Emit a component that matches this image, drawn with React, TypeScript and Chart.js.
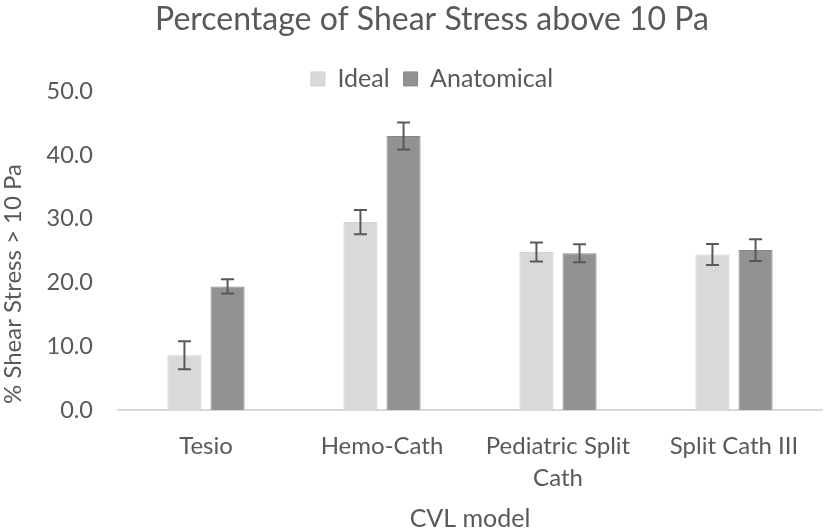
import React, { useEffect, useRef } from "react";
import { Chart, registerables } from "chart.js";

Chart.register(...registerables);

const categories: (string | string[])[] = ["Tesio", "Hemo-Cath", ["Pediatric Split", "Cath"], "Split Cath III"];
const idealValues = [8.6, 29.5, 24.8, 24.4];
const idealErrors = [2.2, 1.9, 1.5, 1.65];
const anatomicalValues = [19.4, 43.0, 24.6, 25.1];
const anatomicalErrors = [1.1, 2.1, 1.4, 1.7];
const yTicks = [0, 10, 20, 30, 40, 50];
const yTitle = "% Shear Stress > 10 Pa";

const FONT = "Lato, 'Open Sans', sans-serif";
const TEXT = "#595959";

const errorBarPlugin = {
  id: "errorBars",
  afterDatasetsDraw(chart: any) {
    const { ctx } = chart;
    const yScale = chart.scales.y;
    ctx.save();
    ctx.strokeStyle = "#595959";
    ctx.lineWidth = 2;
    chart.data.datasets.forEach((ds: any, di: number) => {
      const meta = chart.getDatasetMeta(di);
      const errs: number[] = ds.errors || [];
      meta.data.forEach((bar: any, i: number) => {
        const v = ds.data[i];
        const e = errs[i];
        const x = bar.x;
        const yTop = yScale.getPixelForValue(v + e);
        const yBot = yScale.getPixelForValue(v - e);
        const half = 6.5;
        ctx.beginPath();
        ctx.moveTo(x, yTop);
        ctx.lineTo(x, yBot);
        ctx.moveTo(x - half, yTop);
        ctx.lineTo(x + half, yTop);
        ctx.moveTo(x - half, yBot);
        ctx.lineTo(x + half, yBot);
        ctx.stroke();
      });
    });
    ctx.restore();
  },
};

const yTitlePlugin = {
  id: "yTitleCustom",
  afterDraw(chart: any) {
    const { ctx, chartArea } = chart;
    ctx.save();
    ctx.fillStyle = TEXT;
    ctx.font = `24px ${FONT}`;
    ctx.textAlign = "center";
    ctx.textBaseline = "middle";
    ctx.translate(13, chartArea.bottom - 126);
    ctx.rotate(-Math.PI / 2);
    ctx.fillText(yTitle, 0, 0);
    ctx.restore();
  },
};

export default function App() {
  const ref = useRef<HTMLCanvasElement>(null);
  useEffect(() => {
    document.body.style.margin = "0";
    const chart = new Chart(ref.current as HTMLCanvasElement, {
      type: "bar",
      data: {
        labels: categories,
        datasets: [
          {
            label: "Ideal",
            data: idealValues,
            errors: idealErrors,
            backgroundColor: "#d9d9d9",
            borderColor: "#d0d0d0",
            borderWidth: 1,
            categoryPercentage: 0.49,
            barPercentage: 0.79,
          } as any,
          {
            label: "Anatomical",
            data: anatomicalValues,
            errors: anatomicalErrors,
            backgroundColor: "#929292",
            borderColor: "#888888",
            borderWidth: 1,
            categoryPercentage: 0.49,
            barPercentage: 0.79,
          } as any,
        ],
      },
      options: {
        responsive: false,
        animation: false,
        devicePixelRatio: 1,
        layout: { padding: { left: 42, right: 2, top: 0, bottom: 0 } },
        plugins: {
          title: {
            display: true,
            text: "Percentage of Shear Stress above 10 Pa",
            color: TEXT,
            font: { family: FONT, size: 32, weight: "normal" as any },
            padding: { top: 0, bottom: 14 },
          },
          legend: {
            display: true,
            position: "top",
            maxHeight: 39,
            labels: {
              color: TEXT,
              font: { family: FONT, size: 25 },
              boxWidth: 14,
              boxHeight: 14,
              padding: 14,
            },
          },
          tooltip: { enabled: false },
        },
        scales: {
          x: {
            grid: { display: false, drawTicks: false },
            border: { display: true, color: "#d9d9d9", width: 2 },
            ticks: {
              color: TEXT,
              font: { family: FONT, size: 24, lineHeight: 1.3 },
              padding: 21,
              maxRotation: 0,
              autoSkip: false,
            },
            title: {
              display: true,
              text: "CVL model",
              color: TEXT,
              font: { family: FONT, size: 25, lineHeight: 1 },
              padding: { top: 0, bottom: 0 },
            },
            afterFit: (s: any) => {
              s.height = 121;
            },
          },
          y: {
            min: 0,
            max: 50,
            grid: { display: false, drawTicks: false },
            border: { display: false },
            afterBuildTicks: (s: any) => {
              s.ticks = yTicks.map((v) => ({ value: v }));
            },
            ticks: {
              color: TEXT,
              font: { family: FONT, size: 23.5 },
              padding: 25,
              callback: (v: any) => Number(v).toFixed(1),
            },
            afterFit: (s: any) => {
              s.width = 76;
            },
          },
        },
      } as any,
      plugins: [errorBarPlugin, yTitlePlugin],
    });
    return () => chart.destroy();
  }, []);
  return <canvas ref={ref} width={824} height={531} style={{ display: "block" }} />;
}
